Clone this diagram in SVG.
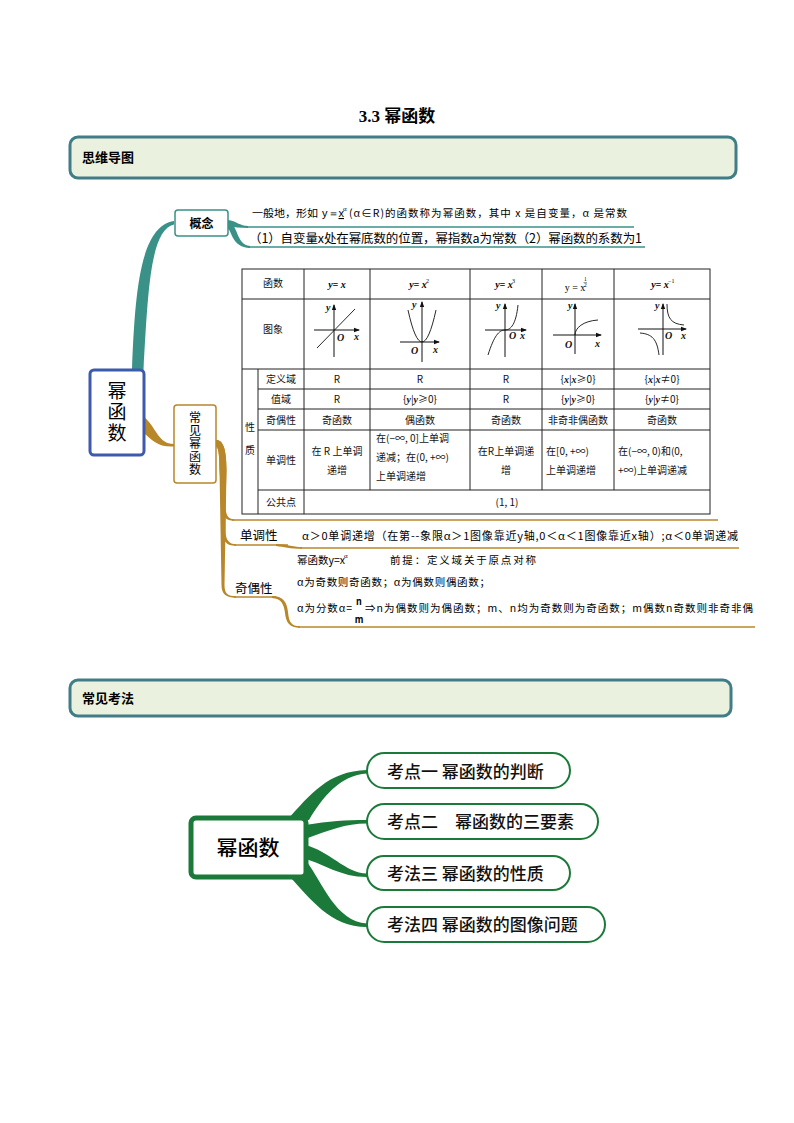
<svg xmlns="http://www.w3.org/2000/svg" width="794" height="1123" viewBox="0 0 794 1123">
<style>
.cjk{font-family:"Noto Sans CJK SC",sans-serif;}
.ser{font-family:"Liberation Serif","Noto Sans CJK SC",serif;}
.mi{font-family:"Liberation Serif",serif;font-style:italic;font-weight:bold;}
.hdr{fill:#ebf1df;stroke:#417d86;stroke-width:3;}
.tb{font-family:"Noto Sans CJK SC",sans-serif;font-size:10px;text-anchor:middle;fill:#111;}
.tbl{font-family:"Noto Sans CJK SC",sans-serif;font-size:10px;fill:#111;}
.grid{stroke:#222;stroke-width:1;fill:none;}
.ax{stroke:#111;stroke-width:1;fill:none;}
.cv{stroke:#111;stroke-width:0.9;fill:none;}
.gl{font-family:"Liberation Serif",serif;font-style:italic;font-weight:bold;font-size:10px;fill:#111;}
.teal{fill:#3a9188;}
.tealS{stroke:#3a9188;stroke-width:1.6;fill:none;}
.brown{fill:#b8872a;}
.brownS{stroke:#b8872a;stroke-width:1.6;fill:none;}
.green{fill:#1b7a3a;}
.pill{fill:#fff;stroke:#1b7a3a;stroke-width:2;}
.pt{font-family:"Noto Sans CJK SC",sans-serif;font-size:17px;font-weight:500;fill:#111;}
</style>
<defs>
<marker id="ar" viewBox="0 0 6 6" refX="5" refY="3" markerWidth="6" markerHeight="6" orient="auto" markerUnits="userSpaceOnUse">
<path d="M0,0.8 L6,3 L0,5.2 Z" fill="#111"/>
</marker>
</defs>
<rect width="794" height="1123" fill="#fff"/>

<g id="title">
<text x="397" y="122" class="ser" font-size="17" font-weight="bold" text-anchor="middle">3.3  幂函数</text>
</g>

<g id="header1">
<rect x="70" y="137" width="666" height="41" rx="8" class="hdr"/>
<text x="82" y="162" class="cjk" font-size="13" font-weight="bold">思维导图</text>
</g>

<g id="connectors">
<path class="teal" d="M132,370 C135,292 140,226 174,221 L174,224.5 C150,230 148,292 143.5,370 Z"/>
<path class="teal" d="M228,220 C236,221 240,226 248,226 L248,228 C240,228 234,227 228,226 Z"/>
<line x1="246" y1="227" x2="634" y2="227" class="tealS"/>
<path class="teal" d="M228,222 C238,223 236,245 250,246 L250,248 C232,247.5 232,231 228,229 Z"/>
<line x1="248" y1="247" x2="645" y2="247" class="tealS"/>
<path class="brown" d="M144,417 C157,428 158,444 174,444 L174,446.5 C158,447.5 152,440 144,433 Z"/>
<path class="brown" d="M216,440 C222,440 226.5,446 226.5,470 L224.5,585 C224.5,594 228,596.2 236,596.2 L236,597.8 C226,597.8 221.5,594 221.5,585 L219.5,470 C219.5,452 218,447 216,447 Z"/>
<path class="brown" d="M216,440 C222,440 226.5,446 226.5,470 L225.5,505 C225.5,515 228,519.2 234,519.2 L234,520.8 C225,520.8 222,516 222,505 L219.5,470 C219.5,452 218,447 216,447 Z"/>
<path class="brown" d="M225.5,512 L225.5,530 C225.5,540 229,544.2 236,544.2 L236,545.8 C226,545.8 222.5,541 222.5,530 L222.5,512 Z"/>
<line x1="232" y1="520" x2="718" y2="520" class="brownS"/>
<line x1="234" y1="545" x2="288" y2="545" class="brownS"/>
<path class="brown" d="M276,544 C286,544 292,547 302,547.2 L302,548.8 C290,548.8 284,547 276,546 Z"/>
<line x1="300" y1="548" x2="739" y2="548" class="brownS"/>
<line x1="234" y1="597" x2="276" y2="597" class="brownS"/>
<path class="brown" d="M272,596 C284,596 287,603 288,612 C289,622 291,626.2 300,626.2 L300,627.8 C289,627.8 286,622 285,613 C284,604 281,598.5 272,598 Z"/>
<line x1="298" y1="627" x2="755" y2="627" class="brownS"/>
<path class="green" d="M288,819 C310,795 328,771 367,770 L367,773.5 C340,775 322,798 309,820 Z"/>
<path class="green" d="M305,825 C330,821 345,820 367,820 L367,823.5 C345,823.5 330,830 305,839 Z"/>
<path class="green" d="M305,845 C330,851 345,873 367,873.5 L367,877 C340,877 325,864 305,859 Z"/>
<path class="green" d="M307,862 C322,882 336,922 367,923.5 L367,927 C330,927 310,898 290,877 Z"/>
</g>

<g id="node-main">
<rect x="90" y="370" width="54" height="85" rx="4" fill="#fff" stroke="#3d5bad" stroke-width="3"/>
<text x="117" y="413" class="cjk" font-size="19" writing-mode="tb" text-anchor="middle" letter-spacing="2">幂函数</text>
</g>

<g id="node-concept">
<rect x="175" y="210" width="53" height="26" rx="3" fill="#fff" stroke="#3a9188" stroke-width="1.5"/>
<text x="201.5" y="227.5" class="cjk" font-size="12" font-weight="bold" text-anchor="middle">概念</text>
</g>
<g id="concept-text">
<text x="252" y="217" class="cjk" font-size="10.5" textLength="66" lengthAdjust="spacingAndGlyphs">一般地，形如</text>
<text x="322" y="217" font-family="Liberation Sans,sans-serif" font-size="11">y＝<tspan text-decoration="underline">x</tspan></text>
<text x="343" y="211" class="ser" font-size="7">α</text>
<text x="349" y="217" class="cjk" font-size="10.5" textLength="278" lengthAdjust="spacing">(α∈R)的函数称为幂函数，其中 x 是自变量，α 是常数</text>
<text x="249" y="243" class="cjk" font-size="12.5" textLength="393" lengthAdjust="spacing">（1）自变量x处在幂底数的位置，幂指数a为常数（2）幂函数的系数为1</text>
</g>

<g id="node-common">
<rect x="174" y="405" width="42" height="78" rx="3" fill="#fff" stroke="#b8872a" stroke-width="1.5"/>
<text x="195" y="444" class="cjk" font-size="12" writing-mode="tb" text-anchor="middle" letter-spacing="1">常见幂函数</text>
</g>

<g id="table">
<rect x="242" y="269" width="468" height="245" class="grid"/>
<line x1="242" y1="299" x2="710" y2="299" class="grid"/>
<line x1="242" y1="369" x2="710" y2="369" class="grid"/>
<line x1="258" y1="389" x2="710" y2="389" class="grid"/>
<line x1="258" y1="409" x2="710" y2="409" class="grid"/>
<line x1="258" y1="430" x2="710" y2="430" class="grid"/>
<line x1="258" y1="490" x2="710" y2="490" class="grid"/>
<line x1="258" y1="369" x2="258" y2="514" class="grid"/>
<line x1="304" y1="269" x2="304" y2="514" class="grid"/>
<line x1="370" y1="269" x2="370" y2="490" class="grid"/>
<line x1="470" y1="269" x2="470" y2="490" class="grid" stroke="#888"/>
<line x1="542" y1="269" x2="542" y2="490" class="grid"/>
<line x1="614" y1="269" x2="614" y2="490" class="grid"/>

<text x="273" y="287" class="tb">函数</text>
<text x="337" y="288" class="mi" font-size="10" text-anchor="middle">y= x</text>
<text x="418" y="288" class="mi" font-size="10" text-anchor="middle">y= x</text>
<text x="426" y="283" class="ser" font-size="6">2</text>
<text x="504" y="288" class="mi" font-size="10" text-anchor="middle">y= x</text>
<text x="512" y="283" class="ser" font-size="6">3</text>
<text x="575" y="291" class="ser" font-size="10" text-anchor="middle">y = x</text>
<text x="584" y="281" class="ser" font-size="5.5">1</text>
<line x1="583.5" y1="282.5" x2="587" y2="282.5" stroke="#111" stroke-width="0.4"/>
<text x="584" y="287" class="ser" font-size="5.5">2</text>
<text x="660" y="288" class="mi" font-size="10" text-anchor="middle">y= x</text>
<text x="668" y="283" class="ser" font-size="6">−1</text>

<text x="273" y="333" class="tb">图象</text>
<line x1="334" y1="357" x2="334" y2="305" class="ax" marker-end="url(#ar)"/>
<line x1="314" y1="330" x2="359" y2="330" class="ax" marker-end="url(#ar)"/>
<line x1="317" y1="348" x2="355" y2="309" class="cv"/>
<text x="326" y="311" class="gl">y</text>
<text x="337" y="341" class="gl" font-size="11">O</text>
<text x="354" y="340" class="gl">x</text>
<line x1="422" y1="362" x2="422" y2="302" class="ax" marker-end="url(#ar)"/>
<line x1="400" y1="342" x2="439" y2="342" class="ax" marker-end="url(#ar)"/>
<path d="M408,310 Q422,374 436,310" class="cv"/>
<text x="412" y="308" class="gl">y</text>
<text x="411" y="354" class="gl" font-size="11">O</text>
<text x="433" y="353" class="gl">x</text>
<line x1="505" y1="357" x2="505" y2="304" class="ax" marker-end="url(#ar)"/>
<line x1="485" y1="330" x2="526" y2="330" class="ax" marker-end="url(#ar)"/>
<path d="M488,355 C494,336 499,330 505,330 C511,330 516,324 518,305" class="cv"/>
<text x="496" y="309" class="gl">y</text>
<text x="509" y="339" class="gl" font-size="11">O</text>
<text x="520" y="339" class="gl">x</text>
<line x1="575" y1="354" x2="575" y2="304" class="ax" marker-end="url(#ar)"/>
<line x1="553" y1="335" x2="601" y2="335" class="ax" marker-end="url(#ar)"/>
<path d="M575,335 C575,328 583,321 598,320" class="cv"/>
<text x="568" y="309" class="gl">y</text>
<text x="565" y="348" class="gl" font-size="11">O</text>
<text x="595" y="347" class="gl">x</text>
<line x1="663" y1="355" x2="663" y2="304" class="ax" marker-end="url(#ar)"/>
<line x1="638" y1="329" x2="686" y2="329" class="ax" marker-end="url(#ar)"/>
<path d="M667,304 C667,318 671,324 684,325" class="cv"/>
<path d="M640,333 C652,334 657,339 659,355" class="cv"/>
<text x="655" y="309" class="gl">y</text>
<text x="665" y="339" class="gl" font-size="11">O</text>
<text x="681" y="339" class="gl">x</text>

<text x="250" y="431" class="tb">性</text>
<text x="250" y="454" class="tb">质</text>

<text x="281" y="383" class="tb">定义域</text>
<text x="337" y="383" class="tb">R</text>
<text x="420" y="383" class="tb">R</text>
<text x="506" y="383" class="tb">R</text>
<text x="578" y="383" class="tb">{<tspan class="mi" font-weight="normal">x</tspan>|<tspan class="mi" font-weight="normal">x</tspan>≥0}</text>
<text x="662" y="383" class="tb">{<tspan class="mi" font-weight="normal">x</tspan>|<tspan class="mi" font-weight="normal">x</tspan>≠0}</text>
<text x="281" y="403" class="tb">值域</text>
<text x="337" y="403" class="tb">R</text>
<text x="420" y="403" class="tb">{<tspan class="mi" font-weight="normal">y</tspan>|<tspan class="mi" font-weight="normal">y</tspan>≥0}</text>
<text x="506" y="403" class="tb">R</text>
<text x="578" y="403" class="tb">{<tspan class="mi" font-weight="normal">y</tspan>|<tspan class="mi" font-weight="normal">y</tspan>≥0}</text>
<text x="662" y="403" class="tb">{<tspan class="mi" font-weight="normal">y</tspan>|<tspan class="mi" font-weight="normal">y</tspan>≠0}</text>
<text x="281" y="423.5" class="tb">奇偶性</text>
<text x="337" y="423.5" class="tb">奇函数</text>
<text x="420" y="423.5" class="tb">偶函数</text>
<text x="506" y="423.5" class="tb">奇函数</text>
<text x="578" y="423.5" class="tb">非奇非偶函数</text>
<text x="662" y="423.5" class="tb">奇函数</text>
<text x="281" y="464" class="tb">单调性</text>
<text x="337" y="455" class="tb">在 R 上单调</text>
<text x="337" y="474" class="tb">递增</text>
<text x="376" y="442" class="tbl">在(−∞, 0]上单调</text>
<text x="376" y="461" class="tbl">递减；在(0, +∞)</text>
<text x="376" y="480" class="tbl">上单调递增</text>
<text x="506" y="455" class="tb">在R上单调递</text>
<text x="506" y="474" class="tb">增</text>
<text x="546" y="455" class="tbl">在[0, +∞)</text>
<text x="546" y="474" class="tbl">上单调递增</text>
<text x="618" y="455" class="tbl">在(−∞, 0)和(0,</text>
<text x="618" y="474" class="tbl">+∞)上单调递减</text>
<text x="281" y="505.5" class="tb">公共点</text>
<text x="507" y="505.5" class="tb">(1, 1)</text>
</g>

<g id="node-mono">
<text x="240" y="540" class="cjk" font-size="12.5">单调性</text>
<text x="302" y="540" class="cjk" font-size="11" textLength="436" lengthAdjust="spacing">α＞0单调递增（在第--象限α＞1图像靠近y轴,0＜α＜1图像靠近x轴）;α＜0单调递减</text>
</g>

<g id="node-parity">
<text x="235" y="593" class="cjk" font-size="12.5">奇偶性</text>
<text x="297" y="564" class="cjk" font-size="10.5">幂函数y=x</text>
<text x="344" y="558" class="ser" font-size="7">α</text>
<text x="390" y="564" class="cjk" font-size="10.5" textLength="146" lengthAdjust="spacing">前提：定义域关于原点对称</text>
<text x="297" y="585.5" class="cjk" font-size="10.5" textLength="193" lengthAdjust="spacing">α为奇数则奇函数；α为偶数则偶函数；</text>
<text x="297" y="612" class="cjk" font-size="10.5" textLength="55" lengthAdjust="spacing">α为分数α=</text>
<text x="359" y="605" class="cjk" font-size="9" font-weight="bold" text-anchor="middle">n</text>
<text x="359" y="623" class="cjk" font-size="9" font-weight="bold" text-anchor="middle">m</text>
<text x="365" y="612" class="cjk" font-size="10.5" textLength="388" lengthAdjust="spacing">⇒n为偶数则为偶函数；m、n均为奇数则为奇函数；m偶数n奇数则非奇非偶</text>
</g>

<g id="header2">
<rect x="70" y="680" width="661" height="36" rx="8" class="hdr"/>
<text x="82" y="703" class="cjk" font-size="13" font-weight="bold">常见考法</text>
</g>

<g id="node-bottom-main">
<rect x="191" y="818" width="115" height="59" rx="5" fill="#fff" stroke="#1b7a3a" stroke-width="5"/>
<text x="248" y="855" class="cjk" font-size="21" font-weight="500" text-anchor="middle">幂函数</text>
</g>
<g id="node-k1">
<rect x="367" y="753" width="203" height="35" rx="17.5" class="pill"/>
<text x="387" y="777.5" class="pt">考点一  幂函数的判断</text>
</g>
<g id="node-k2">
<rect x="367" y="804" width="231" height="35" rx="17.5" class="pill"/>
<text x="387" y="828" class="pt">考点二　幂函数的三要素</text>
</g>
<g id="node-k3">
<rect x="367" y="856" width="203" height="34" rx="17" class="pill"/>
<text x="387" y="880" class="pt">考法三  幂函数的性质</text>
</g>
<g id="node-k4">
<rect x="367" y="907" width="238" height="35" rx="17.5" class="pill"/>
<text x="387" y="931" class="pt">考法四  幂函数的图像问题</text>
</g>
</svg>
